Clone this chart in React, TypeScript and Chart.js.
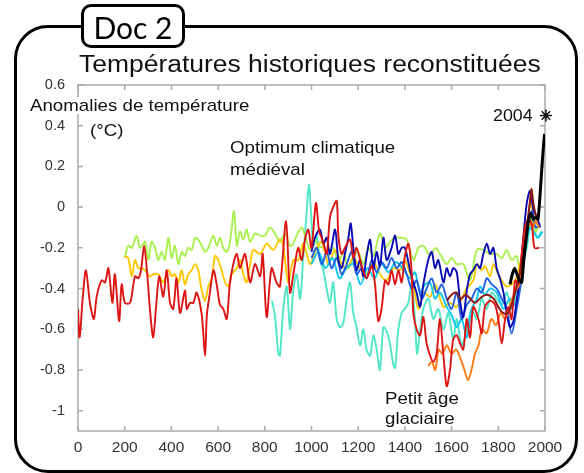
import React, { useEffect, useRef } from "react";
import { Chart, registerables } from "chart.js";

Chart.register(...registerables);

// ---------- data ----------
const X_TICKS = [0, 200, 400, 600, 800, 1000, 1200, 1400, 1600, 1800, 2000];
const Y_TICKS = [0.6, 0.4, 0.2, 0, -0.2, -0.4, -0.6, -0.8, -1];

const redYears = [0,7,20,34,51,68,80,101,116,130,147,158,176,187,201,223,244,258,270,283,295,308,322,335,348,365,380,394,408,422,437,458,466,480,494,508,530,544,552,565,580,594,608,622,637,650,665,680,694,715,737,758,780,791,808,829,850,865,891,908,925,943,958,972,986,1000,1019,1033,1050,1065,1079,1093,1108,1115,1129,1143,1165,1179,1193,1215,1236,1258,1272,1286,1300,1315,1329,1343,1358,1372,1386,1400,1415,1429,1436,1450,1465,1479,1493,1508,1522,1536,1550,1565,1579,1593,1607,1622,1636,1650,1665,1679,1693,1715,1729,1743,1765,1786,1800,1815,1829,1843,1857,1872,1886,1900,1914,1929,1943,1955,1975];
const redVals = [-0.5,-0.64,-0.45,-0.31,-0.47,-0.55,-0.44,-0.36,-0.37,-0.3,-0.47,-0.33,-0.56,-0.38,-0.47,-0.47,-0.34,-0.35,-0.31,-0.19,-0.31,-0.5,-0.64,-0.48,-0.34,-0.44,-0.31,-0.47,-0.5,-0.35,-0.52,-0.41,-0.5,-0.47,-0.47,-0.42,-0.53,-0.73,-0.53,-0.42,-0.31,-0.38,-0.48,-0.5,-0.55,-0.38,-0.28,-0.23,-0.3,-0.23,-0.37,-0.28,-0.34,-0.23,-0.54,-0.3,-0.37,-0.39,-0.07,-0.42,-0.31,-0.2,-0.26,-0.16,-0.11,-0.2,0.02,-0.12,-0.17,-0.23,-0.05,0.0,0.03,-0.14,-0.23,-0.2,-0.16,-0.25,-0.2,-0.29,-0.35,-0.29,-0.38,-0.56,-0.5,-0.36,-0.38,-0.31,-0.38,-0.31,-0.37,-0.24,-0.18,-0.32,-0.52,-0.6,-0.63,-0.54,-0.67,-0.73,-0.76,-0.72,-0.55,-0.73,-0.88,-0.8,-0.65,-0.63,-0.67,-0.7,-0.55,-0.64,-0.49,-0.55,-0.62,-0.49,-0.46,-0.48,-0.55,-0.67,-0.55,-0.49,-0.55,-0.36,-0.38,-0.23,-0.1,-0.06,-0.08,-0.2,-0.2];

const limeYears = [200,215,230,251,265,287,301,315,330,344,358,372,387,401,415,430,444,458,472,487,501,515,530,544,558,580,594,608,622,637,651,668,680,694,708,722,737,758,780,801,822,844,865,887,908,922,936,958,972,994,1015,1029,1051,1072,1093,1115,1136,1158,1179,1200,1222,1243,1265,1293,1315,1336,1358,1379,1408,1436,1458,1479,1508,1530,1550,1579,1600,1622,1650,1679,1708,1736,1765,1793,1815,1836,1857,1879,1893,1922,1943,1958,1972];
const limeVals = [-0.25,-0.19,-0.2,-0.14,-0.2,-0.17,-0.26,-0.17,-0.2,-0.26,-0.22,-0.26,-0.15,-0.25,-0.19,-0.28,-0.22,-0.24,-0.2,-0.21,-0.15,-0.16,-0.19,-0.22,-0.2,-0.14,-0.19,-0.15,-0.2,-0.22,-0.17,-0.02,-0.19,-0.12,-0.16,-0.11,-0.17,-0.13,-0.14,-0.14,-0.1,-0.13,-0.17,-0.13,-0.19,-0.18,-0.14,-0.1,-0.14,-0.21,-0.16,-0.19,-0.2,-0.24,-0.2,-0.27,-0.22,-0.3,-0.25,-0.22,-0.28,-0.2,-0.24,-0.13,-0.2,-0.17,-0.15,-0.15,-0.16,-0.26,-0.2,-0.19,-0.24,-0.2,-0.23,-0.28,-0.25,-0.28,-0.28,-0.36,-0.21,-0.21,-0.23,-0.23,-0.25,-0.21,-0.26,-0.24,-0.32,-0.15,-0.06,-0.12,-0.1];

const yellowYears = [200,215,230,244,258,273,287,308,322,344,365,387,401,415,430,444,458,472,487,501,515,530,544,558,573,587,601,615,630,644,658,680,694,708,722,737,751,780,808,836,865,879,900,922,943,965,994,1015,1044,1072,1101,1129,1151,1179,1208,1236,1265,1293,1322,1350,1379,1400,1436,1458,1479,1508,1529,1565,1593,1622,1665,1693,1708,1729,1743,1765,1779,1800,1836,1872,1893,1922,1936,1957,1972];
const yellowVals = [-0.24,-0.25,-0.34,-0.26,-0.3,-0.3,-0.31,-0.34,-0.33,-0.33,-0.37,-0.31,-0.34,-0.33,-0.37,-0.31,-0.38,-0.33,-0.31,-0.28,-0.31,-0.41,-0.46,-0.39,-0.35,-0.24,-0.26,-0.31,-0.37,-0.39,-0.33,-0.3,-0.26,-0.33,-0.37,-0.28,-0.21,-0.23,-0.18,-0.21,-0.16,-0.19,-0.37,-0.26,-0.26,-0.18,-0.28,-0.22,-0.17,-0.28,-0.21,-0.28,-0.3,-0.25,-0.3,-0.33,-0.27,-0.33,-0.36,-0.3,-0.31,-0.26,-0.39,-0.5,-0.42,-0.44,-0.38,-0.49,-0.47,-0.49,-0.4,-0.36,-0.28,-0.31,-0.29,-0.34,-0.28,-0.33,-0.39,-0.36,-0.28,-0.13,0.02,-0.07,-0.09];

const turqYears = [831,844,858,865,879,894,908,922,936,951,965,979,989,997,1008,1022,1036,1051,1065,1079,1093,1108,1122,1136,1151,1165,1179,1193,1208,1222,1236,1251,1265,1279,1293,1308,1322,1336,1350,1358,1372,1386,1400,1415,1429,1443,1452,1465,1479,1500,1522,1543,1565,1586,1607,1622,1643,1665,1686,1708,1729,1750,1772,1793,1815,1836,1857,1879,1900,1922,1943,1965,1985];
const turqVals = [-0.46,-0.54,-0.72,-0.73,-0.5,-0.39,-0.6,-0.41,-0.33,-0.45,-0.24,-0.03,0.11,-0.01,-0.19,-0.14,-0.26,-0.31,-0.4,-0.47,-0.37,-0.55,-0.59,-0.57,-0.45,-0.37,-0.52,-0.59,-0.68,-0.6,-0.7,-0.73,-0.63,-0.7,-0.8,-0.59,-0.61,-0.67,-0.77,-0.79,-0.6,-0.52,-0.5,-0.47,-0.37,-0.55,-0.72,-0.6,-0.5,-0.45,-0.55,-0.5,-0.6,-0.52,-0.65,-0.55,-0.68,-0.6,-0.5,-0.55,-0.45,-0.5,-0.42,-0.45,-0.48,-0.42,-0.5,-0.42,-0.3,-0.2,-0.05,-0.15,-0.12];

const darkBlueYears = [1000,1015,1036,1051,1065,1079,1101,1115,1129,1143,1158,1168,1179,1193,1208,1222,1236,1251,1265,1279,1293,1308,1322,1343,1358,1372,1386,1400,1422,1436,1450,1465,1479,1500,1515,1529,1543,1565,1579,1593,1607,1622,1636,1650,1665,1679,1693,1708,1722,1736,1751,1765,1779,1793,1807,1822,1836,1850,1865,1879,1893,1908,1922,1936,1950,1965,1980];
const darkBlueVals = [-0.22,-0.15,-0.11,-0.18,-0.15,-0.23,-0.11,-0.26,-0.3,-0.23,-0.15,-0.08,-0.2,-0.31,-0.26,-0.34,-0.24,-0.16,-0.3,-0.22,-0.29,-0.15,-0.26,-0.2,-0.14,-0.23,-0.2,-0.2,-0.31,-0.37,-0.42,-0.49,-0.38,-0.26,-0.22,-0.3,-0.26,-0.37,-0.3,-0.34,-0.3,-0.32,-0.46,-0.54,-0.41,-0.33,-0.31,-0.28,-0.3,-0.23,-0.18,-0.23,-0.2,-0.3,-0.35,-0.42,-0.52,-0.59,-0.56,-0.46,-0.34,-0.14,0.02,0.08,-0.01,-0.05,-0.1];

const blueYears = [1000,1022,1044,1065,1086,1108,1129,1151,1172,1193,1215,1236,1258,1279,1300,1322,1343,1365,1386,1408,1429,1450,1472,1493,1515,1536,1558,1579,1600,1622,1643,1665,1686,1708,1729,1751,1772,1793,1815,1836,1857,1879,1900,1915,1930,1945,1960,1980];
const blueVals = [-0.25,-0.2,-0.28,-0.22,-0.3,-0.25,-0.33,-0.28,-0.22,-0.33,-0.3,-0.35,-0.26,-0.32,-0.27,-0.3,-0.25,-0.3,-0.27,-0.33,-0.4,-0.36,-0.45,-0.4,-0.35,-0.42,-0.38,-0.45,-0.5,-0.42,-0.55,-0.48,-0.45,-0.4,-0.42,-0.35,-0.38,-0.4,-0.45,-0.5,-0.62,-0.5,-0.35,-0.2,-0.05,-0.02,-0.1,-0.08];

const cyanYears = [1000,1030,1060,1090,1120,1150,1180,1210,1240,1270,1300,1330,1360,1390,1422,1443,1465,1486,1508,1529,1550,1579,1600,1622,1643,1665,1686,1708,1722,1743,1765,1793,1822,1850,1870,1893,1915,1936,1950,1970,1990];
const cyanVals = [-0.28,-0.22,-0.3,-0.25,-0.35,-0.3,-0.28,-0.38,-0.3,-0.35,-0.28,-0.32,-0.27,-0.3,-0.35,-0.32,-0.42,-0.38,-0.37,-0.45,-0.42,-0.49,-0.53,-0.59,-0.55,-0.64,-0.5,-0.45,-0.39,-0.43,-0.4,-0.42,-0.5,-0.45,-0.48,-0.38,-0.2,-0.1,-0.12,-0.15,-0.12];

const orangeYears = [1500,1515,1530,1545,1560,1580,1600,1620,1640,1655,1670,1685,1700,1715,1730,1750,1770,1790,1810,1830,1850,1870,1890,1900,1915,1930,1945,1960,1975];
const orangeVals = [-0.78,-0.76,-0.8,-0.7,-0.72,-0.68,-0.72,-0.7,-0.75,-0.8,-0.85,-0.8,-0.72,-0.68,-0.6,-0.62,-0.55,-0.58,-0.52,-0.55,-0.48,-0.42,-0.38,-0.3,-0.15,-0.05,-0.1,-0.07,-0.1];

const darkRedYears = [1580,1600,1620,1640,1660,1680,1700,1720,1750,1780,1800,1820,1840,1860,1880,1900,1920,1935,1942,1950,1965,1975];
const darkRedVals = [-0.46,-0.43,-0.42,-0.45,-0.43,-0.45,-0.47,-0.45,-0.43,-0.45,-0.49,-0.52,-0.52,-0.47,-0.38,-0.28,-0.12,0.02,0.09,0.02,-0.05,-0.03];

const blackYears = [1850,1860,1870,1880,1890,1900,1910,1920,1930,1940,1950,1960,1970,1980,1990,1998];
const blackVals = [-0.38,-0.33,-0.3,-0.33,-0.36,-0.37,-0.25,-0.15,-0.06,-0.03,-0.06,-0.05,-0.06,0.08,0.25,0.36];

const starYears = [2004];
const starVals = [0.45];

// ---------- helpers ----------
const pts = (xs: number[], ys: number[]) => xs.map((x, i) => ({ x, y: ys[i] }));

const line = (label: string, xs: number[], ys: number[], color: string, order: number, width = 1.9, tension = 0.3) => ({
  label,
  data: pts(xs, ys),
  borderColor: color,
  backgroundColor: color,
  borderWidth: width,
  pointRadius: 0,
  tension,
  order,
  fill: false,
});

const boxPlugin = {
  id: "matlabBox",
  beforeDatasetsDraw(chart: any) {
    const { ctx, chartArea, scales } = chart;
    const { left, right, top, bottom } = chartArea;
    ctx.save();
    ctx.strokeStyle = "#ababab";
    ctx.lineWidth = 1.5;
    ctx.strokeRect(left, top, right - left, bottom - top);
    ctx.beginPath();
    scales.x.ticks.forEach((t: any) => {
      const px = scales.x.getPixelForValue(t.value);
      ctx.moveTo(px, bottom);
      ctx.lineTo(px, bottom - 5);
      ctx.moveTo(px, top);
      ctx.lineTo(px, top + 5);
    });
    scales.y.ticks.forEach((t: any) => {
      const py = scales.y.getPixelForValue(t.value);
      ctx.moveTo(left, py);
      ctx.lineTo(left + 5, py);
      ctx.moveTo(right, py);
      ctx.lineTo(right - 5, py);
    });
    ctx.stroke();
    ctx.restore();
  },
};

const SANS = '"Liberation Sans", Arial, sans-serif';

export default function App() {
  const ref = useRef<HTMLCanvasElement>(null);

  useEffect(() => {
    if (!ref.current) return;
    Chart.defaults.font.family = SANS;
    const chart = new Chart(ref.current, {
      type: "line",
      data: {
        datasets: [
          line("Instrumental", blackYears, blackVals, "#000000", 0, 3, 0.2),
          line("Dark red", darkRedYears, darkRedVals, "#8c1a14", 1, 2, 0.4),
          line("Red", redYears, redVals, "#dc1414", 2),
          line("Orange", orangeYears, orangeVals, "#ff7a14", 3),
          line("Dark blue", darkBlueYears, darkBlueVals, "#0a0ab4", 4),
          line("Blue", blueYears, blueVals, "#2060e0", 5),
          line("Cyan", cyanYears, cyanVals, "#10c8f0", 6),
          line("Yellow", yellowYears, yellowVals, "#ffc800", 7),
          line("Lime", limeYears, limeVals, "#aaf050", 8),
          line("Turquoise", turqYears, turqVals, "#50e6c6", 9),
          {
            label: "2004",
            data: pts(starYears, starVals),
            showLine: false,
            pointStyle: "star",
            pointRadius: 6,
            borderColor: "#111",
            backgroundColor: "#111",
            borderWidth: 1.5,
            clip: false,
            order: -1,
          } as any,
        ],
      },
      options: {
        responsive: false,
        animation: false,
        events: [],
        layout: { padding: { top: 85, right: 39, bottom: 0, left: 0 } },
        plugins: { legend: { display: false }, title: { display: false }, tooltip: { enabled: false } },
        scales: {
          x: {
            type: "linear",
            min: 0,
            max: 2000,
            grid: { display: false },
            border: { display: false },
            afterBuildTicks: (s: any) => { s.ticks = X_TICKS.map((v) => ({ value: v })); },
            afterFit: (s: any) => { s.height = 42; },
            ticks: {
              color: "#333",
              font: { size: 15.5 },
              padding: -1,
              maxRotation: 0,
              autoSkip: false,
              callback: (v: any) => String(Math.round(Number(v))),
            },
          },
          y: {
            type: "linear",
            min: -1.1,
            max: 0.6,
            grid: { display: false },
            border: { display: false },
            afterBuildTicks: (s: any) => { s.ticks = Y_TICKS.map((v) => ({ value: v })); },
            afterFit: (s: any) => { s.width = 78; },
            ticks: {
              color: "#333",
              font: { size: 14.5 },
              padding: 5,
              autoSkip: false,
              callback: (v: any) => String(Math.round(Number(v) * 10) / 10),
            },
          },
        },
      },
      plugins: [boxPlugin],
    } as any);
    return () => chart.destroy();
  }, []);

  const txt = (extra: React.CSSProperties): React.CSSProperties => ({
    position: "absolute",
    fontFamily: SANS,
    fontSize: 17,
    lineHeight: "17px",
    color: "#111",
    whiteSpace: "nowrap",
    transform: "scaleX(1.1)",
    transformOrigin: "left top",
    ...extra,
  });

  return (
    <div style={{ position: "absolute", left: 0, top: 0, width: 584, height: 473, background: "#fff", overflow: "hidden" }}>
      <div
        style={{
          position: "absolute",
          left: 14,
          top: 25,
          width: 564,
          height: 448,
          border: "3px solid #000",
          borderRadius: 34,
          boxSizing: "border-box",
        }}
      />
      <canvas ref={ref} width={584} height={473} style={{ position: "absolute", left: 0, top: 0 }} />
      <div
        style={{
          position: "absolute",
          left: 81,
          top: 4,
          width: 104,
          height: 44,
          border: "3px solid #000",
          borderRadius: 10,
          boxSizing: "border-box",
          background: "#fff",
          fontFamily: "Lato, 'Open Sans', sans-serif",
          fontSize: 30,
          lineHeight: "30px",
          textAlign: "center",
          paddingTop: 5,
          color: "#000",
        }}
      >
        Doc 2
      </div>
      <div style={txt({ left: 79, top: 52.5, fontSize: 23, lineHeight: "23px", transform: "scaleX(1.15)" })}>
        Températures historiques reconstituées
      </div>
      <div style={txt({ left: 30, top: 96.5, background: "#fff" })}>Anomalies de température</div>
      <div style={txt({ left: 90, top: 121.5 })}>(°C)</div>
      <div style={txt({ left: 230, top: 138.5 })}>Optimum climatique</div>
      <div style={txt({ left: 230, top: 160.5 })}>médiéval</div>
      <div style={txt({ left: 385, top: 389.5 })}>Petit âge</div>
      <div style={txt({ left: 385, top: 409.5 })}>glaciaire</div>
      <div style={txt({ left: 493, top: 106.5, transform: "scaleX(1.05)" })}>2004</div>
    </div>
  );
}
